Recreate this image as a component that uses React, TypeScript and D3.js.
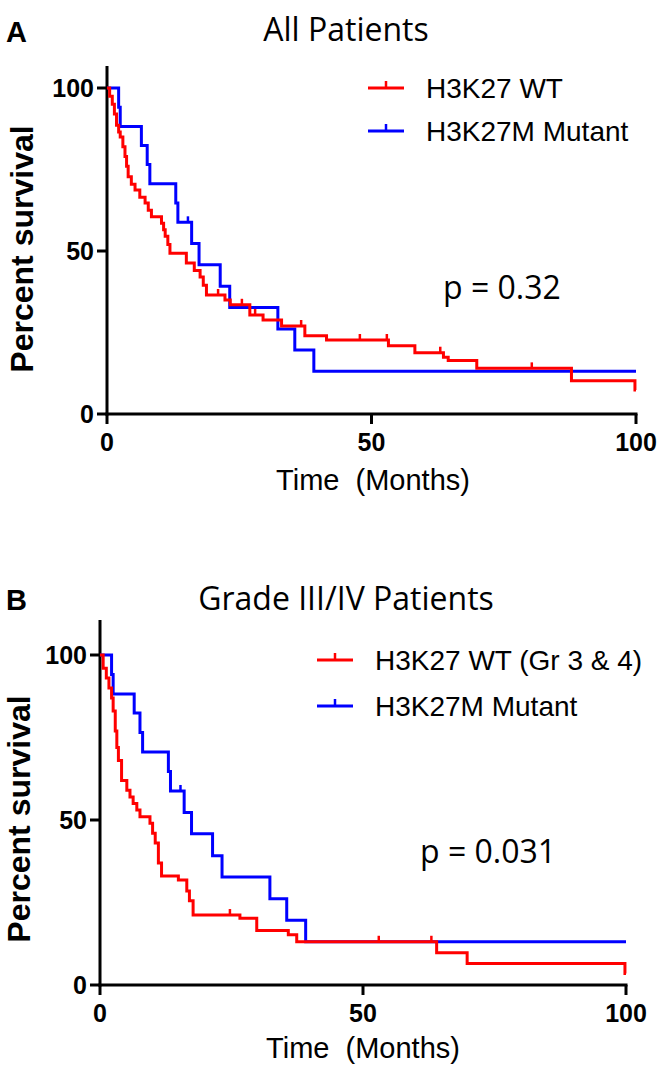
import React from 'react';
import * as d3 from 'd3';

// ---------- data ----------
const xTicks = [0, 50, 100];
const yTicks = [0, 50, 100];

// H3K27M mutant (same group in both panels)
const mutantTime = [0, 2.2, 2.5, 6.5, 7.6, 8.1, 13.0, 13.4, 16.0, 17.4, 21.4, 23.2, 32.3, 35.5, 39.1];
const mutantSurv = [100, 94.1, 88.2, 82.4, 76.5, 70.6, 64.7, 58.8, 52.3, 45.8, 39.2, 32.7, 26.1, 19.6, 13.1];
const mutantCensor = [15.3];

// H3K27 WT, all patients
const allWtTime = [0, 0.5, 1.0, 1.4, 1.8, 2.2, 2.5, 3.0, 3.4, 3.7, 4.0, 4.6, 5.3, 6.2, 7.2, 7.8, 8.4, 10.3, 10.7, 11.0, 11.5, 11.9, 15.0, 16.5, 17.6, 18.2, 18.8, 22.3, 23.3, 27.0, 29.5, 33.0, 37.4, 41.5, 53.2, 58.2, 63.6, 64.5, 69.9, 87.8, 99.8];
const allWtSurv = [100, 97.5, 95, 92, 88.6, 86.5, 85, 82, 79, 76, 72.8, 70.5, 68.7, 66.5, 64.7, 62.5, 60.5, 58.5, 56.5, 54.5, 52, 49.3, 46.3, 44, 42, 39.5, 36.5, 35, 33.5, 30.4, 28.8, 27, 24, 22.7, 20.9, 18.8, 17.4, 16.4, 14, 10.2, 7.4];
const allWtCensor = [21, 25.5, 28, 36.7, 47.8, 52.9, 63, 80.3];

// H3K27 WT, grade 3 & 4
const g34WtTime = [0, 0.6, 1.2, 1.7, 2.2, 2.5, 2.9, 3.2, 3.5, 4.1, 5.1, 5.7, 6.3, 7.0, 7.6, 9.5, 10.0, 10.5, 11.1, 11.7, 14.9, 16.5, 17.0, 17.7, 26.6, 29.8, 35.8, 37.4, 64.0, 69.8, 99.8];
const g34WtSurv = [100, 96, 93, 90, 87, 83, 77, 72, 68, 62, 59, 57, 55, 53, 51, 49, 46, 43, 37, 33, 31.8, 28.5, 25.5, 21.2, 20.2, 16.5, 15.2, 13.1, 9.8, 6.5, 3.5];
const g34WtCensor = [24.7, 53, 63];

const panelLetters = ['A', 'B'];
const panelTitles = ['All Patients', 'Grade III/IV Patients'];
const pValues = ['p = 0.32', 'p = 0.031'];
const wtLegend = ['H3K27 WT', 'H3K27 WT (Gr 3 & 4)'];
const mutantLegend = 'H3K27M Mutant';
const xLabel = 'Time  (Months)';
const yLabel = 'Percent survival';

const RED = '#ff0000';
const BLUE = '#0000ff';
const CAL = "'Open Sans', sans-serif";
const ARIAL = "'Liberation Sans', Arial, sans-serif";

type Series = { time: number[]; surv: number[]; censor: number[]; color: string };

const layouts = [
  { x0: 107, x1: 636, yTop: 88, yBot: 414, axisTop: 66, titleY: 41, letterY: 42,
    lg: { x1: 368, x2: 404, tx: 426, y1: 88, y2: 131 }, p: { x: 443, y: 299 },
    yl: { x: 33, y: 249 }, xl: { x: 373, y: 490 } },
  { x0: 100, x1: 626, yTop: 655, yBot: 985, axisTop: 620, titleY: 610, letterY: 610,
    lg: { x1: 317, x2: 353, tx: 375, y1: 660, y2: 706 }, p: { x: 420, y: 863 },
    yl: { x: 30, y: 819 }, xl: { x: 363, y: 1058 } },
];

function survAt(s: Series, t: number) {
  let v = s.surv[0];
  for (let i = 0; i < s.time.length; i++) if (s.time[i] <= t) v = s.surv[i];
  return v;
}

function Panel({ idx, series }: { idx: number; series: Series[] }) {
  const L = layouts[idx];
  const x = d3.scaleLinear().domain([0, 100]).range([L.x0, L.x1]);
  const y = d3.scaleLinear().domain([0, 100]).range([L.yBot, L.yTop]);
  const line = d3.line<[number, number]>().x(d => x(d[0])).y(d => y(d[1])).curve(d3.curveStepAfter);
  const legendItems = [
    { label: wtLegend[idx], color: RED, y: L.lg.y1 },
    { label: mutantLegend, color: BLUE, y: L.lg.y2 },
  ];
  return (
    <g>
      <text x={6} y={L.letterY} fontFamily={ARIAL} fontWeight="bold" fontSize={29}>{panelLetters[idx]}</text>
      <text x={346} y={L.titleY} fontFamily={CAL} fontSize={32} textAnchor="middle">{panelTitles[idx]}</text>
      {/* axes */}
      <line x1={L.x0} x2={L.x0} y1={L.axisTop} y2={L.yBot + 1.5} stroke="#000" strokeWidth={3} />
      <line x1={L.x0 - 1.5} x2={L.x1 + 1.5} y1={L.yBot} y2={L.yBot} stroke="#000" strokeWidth={3} />
      {yTicks.map(t => (
        <g key={'y' + t}>
          <line x1={L.x0 - 10} x2={L.x0} y1={y(t)} y2={y(t)} stroke="#000" strokeWidth={3} />
          <text x={L.x0 - 13} y={y(t) + 9} fontFamily={ARIAL} fontWeight="bold" fontSize={25} textAnchor="end">{t}</text>
        </g>
      ))}
      {xTicks.map(t => (
        <g key={'x' + t}>
          <line x1={x(t)} x2={x(t)} y1={L.yBot} y2={L.yBot + 10} stroke="#000" strokeWidth={3} />
          <text x={x(t)} y={L.yBot + 37} fontFamily={ARIAL} fontWeight="bold" fontSize={25} textAnchor="middle">{t}</text>
        </g>
      ))}
      <text transform={`translate(${L.yl.x},${L.yl.y}) rotate(-90)`} fontFamily={ARIAL} fontWeight="bold" fontSize={32} textAnchor="middle">{yLabel}</text>
      <text x={L.xl.x} y={L.xl.y} fontFamily={ARIAL} fontSize={29} textAnchor="middle" style={{ whiteSpace: 'pre' }}>{xLabel}</text>
      {/* curves */}
      {series.map((s, i) => {
        const pts: [number, number][] = s.time.map((t, j) => [t, s.surv[j]] as [number, number]);
        pts.push([100, s.surv[s.surv.length - 1]]);
        return (
          <g key={i}>
            <path d={line(pts) || ''} fill="none" stroke={s.color} strokeWidth={3} />
            {s.censor.map((c, k) => (
              <line key={k} x1={x(c)} x2={x(c)} y1={y(survAt(s, c))} y2={y(survAt(s, c)) - 6} stroke={s.color} strokeWidth={2.5} />
            ))}
          </g>
        );
      })}
      {/* legend */}
      {legendItems.map((it, i) => (
        <g key={i}>
          <line x1={L.lg.x1} x2={L.lg.x2} y1={it.y} y2={it.y} stroke={it.color} strokeWidth={3} />
          <line x1={(L.lg.x1 + L.lg.x2) / 2} x2={(L.lg.x1 + L.lg.x2) / 2} y1={it.y} y2={it.y - 7} stroke={it.color} strokeWidth={2.5} />
          <text x={L.lg.tx} y={it.y + 10} fontFamily={ARIAL} fontSize={28}>{it.label}</text>
        </g>
      ))}
      <text x={L.p.x} y={L.p.y} fontFamily={CAL} fontSize={32}>{pValues[idx]}</text>
    </g>
  );
}

export default function App() {
  const mutant: Series = { time: mutantTime, surv: mutantSurv, censor: mutantCensor, color: BLUE };
  const allWt: Series = { time: allWtTime, surv: allWtSurv, censor: allWtCensor, color: RED };
  const g34Wt: Series = { time: g34WtTime, surv: g34WtSurv, censor: g34WtCensor, color: RED };
  return (
    <svg width={661} height={1076} style={{ position: 'absolute', left: 0, top: 0, background: '#fff' }}>
      <rect width={661} height={1076} fill="#fff" />
      <Panel idx={0} series={[mutant, allWt]} />
      <Panel idx={1} series={[mutant, g34Wt]} />
    </svg>
  );
}
